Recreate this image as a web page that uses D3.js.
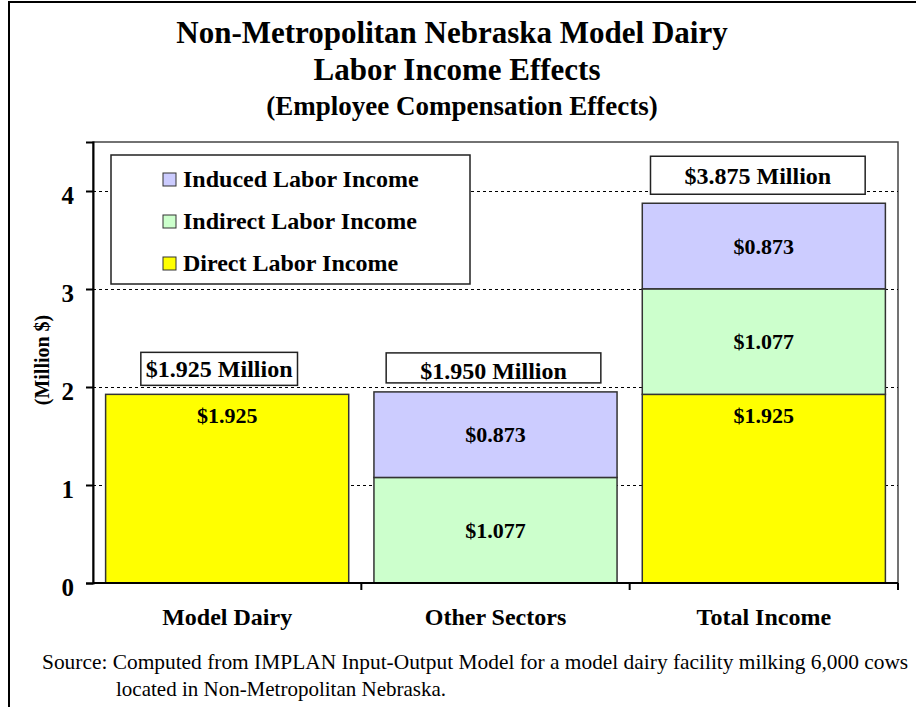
<!DOCTYPE html>
<html lang="en">
<head>
<meta charset="UTF-8" />
<title>Labor Income Effects</title>
<script src="https://cdn.jsdelivr.net/npm/d3@7"></script>
<style>
  body { margin: 0; background: #fff; }
  svg text { font-family: "Liberation Serif", "Times New Roman", serif; fill: #000; }
</style>
</head>
<body>
<div id="chart"></div>
<script>
// chart data
var categories = ["Model Dairy", "Other Sectors", "Total Income"];
var directIncome = [1.925, 0, 1.925];
var indirectIncome = [0, 1.077, 1.077];
var inducedIncome = [0, 0.873, 0.873];
var totalLabels = ["$1.925 Million", "$1.950 Million", "$3.875 Million"];
var seriesNames = ["Direct Labor Income", "Indirect Labor Income", "Induced Labor Income"];
var yTicks = [0, 1, 2, 3, 4];

var w = 916, h = 707;
// note: "top" is reserved on window, so use plot* names
var plotLeft = 93, plotRight = 898, plotTop = 142, plotBottom = 583;

var colors = { direct: "#ffff00", indirect: "#ccffcc", induced: "#ccccff" };

var svg = d3.select("#chart").append("svg")
    .attr("width", w)
    .attr("height", h);

// outer frame (runs off the right/bottom edge like the original)
svg.append("rect")
   .attr("x", 9).attr("y", 2)
   .attr("width", w + 20).attr("height", h + 20)
   .attr("fill", "none").attr("stroke", "#000").attr("stroke-width", 2);

// titles
svg.append("text").attr("x", 452).attr("y", 43).attr("text-anchor", "middle")
   .style("font-size", "31px").style("font-weight", "bold")
   .text("Non-Metropolitan Nebraska Model Dairy");
svg.append("text").attr("x", 457).attr("y", 80).attr("text-anchor", "middle")
   .style("font-size", "31px").style("font-weight", "bold")
   .text("Labor Income Effects");
svg.append("text").attr("x", 462).attr("y", 115).attr("text-anchor", "middle")
   .style("font-size", "27px").style("font-weight", "bold")
   .text("(Employee Compensation Effects)");

var data = categories.map(function(c, i) {
  return { cat: c, direct: directIncome[i], indirect: indirectIncome[i], induced: inducedIncome[i] };
});

var xScale = d3.scaleBand()
    .domain(categories)
    .range([plotLeft, plotRight])
    .paddingInner(0.094)
    .paddingOuter(0.047);

var yScale = d3.scaleLinear()
    .domain([0, 4.5])
    .range([plotBottom, plotTop]);

// plot frame
svg.append("rect")
   .attr("x", plotLeft).attr("y", plotTop)
   .attr("width", plotRight - plotLeft).attr("height", plotBottom - plotTop)
   .attr("fill", "none").attr("stroke", "#444").attr("stroke-width", 1.5);

// dotted gridlines
svg.selectAll("line.grid")
   .data(yTicks.filter(function(d) { return d > 0; }))
   .enter().append("line")
   .attr("class", "grid")
   .attr("x1", plotLeft).attr("x2", plotRight)
   .attr("y1", function(d) { return yScale(d) + 0.5; })
   .attr("y2", function(d) { return yScale(d) + 0.5; })
   .attr("stroke", "#000").attr("stroke-width", 1)
   .attr("shape-rendering", "crispEdges")
   .attr("stroke-dasharray", "3,3");

// stacked bars
var stack = d3.stack().keys(["direct", "indirect", "induced"]);
var layers = stack(data);

var layer = svg.selectAll("g.layer")
   .data(layers)
   .enter().append("g")
   .attr("class", "layer")
   .attr("fill", function(d) { return colors[d.key]; });

layer.selectAll("rect")
   .data(function(d) { return d.filter(function(s) { return s[1] - s[0] > 0; }); })
   .enter().append("rect")
   .attr("x", function(d) { return xScale(d.data.cat); })
   .attr("y", function(d) { return yScale(d[1]); })
   .attr("width", xScale.bandwidth())
   .attr("height", function(d) { return yScale(d[0]) - yScale(d[1]); })
   .attr("stroke", "#333").attr("stroke-width", 1.5);

// segment value labels (direct sits near the top, others centred)
layers.forEach(function(l) {
  l.forEach(function(s) {
    var v = s[1] - s[0];
    if (v <= 0) return;
    var cy = l.key === "direct" ? yScale(s[1]) + 21 : (yScale(s[0]) + yScale(s[1])) / 2;
    svg.append("text")
       .attr("x", xScale(s.data.cat) + xScale.bandwidth() / 2)
       .attr("y", cy)
       .attr("dy", "0.35em")
       .attr("text-anchor", "middle")
       .style("font-size", "22px").style("font-weight", "bold")
       .text("$" + v.toFixed(3));
  });
});

// total boxes above bars
var boxPad = [5, 34, 34];
var boxShift = [-8, -2, -6];
var boxH = [33, 30, 38];
var boxBase = [8, 4, 10];
data.forEach(function(d, i) {
  var total = d.direct + d.indirect + d.induced;
  var cx = xScale(d.cat) + xScale.bandwidth() / 2 + boxShift[i];
  var g = svg.append("g");
  var box = g.append("rect");
  var t = g.append("text")
     .attr("x", cx)
     .attr("text-anchor", "middle")
     .style("font-size", "24px").style("font-weight", "bold")
     .text(totalLabels[i]);
  var tw = t.node().getComputedTextLength();
  var by = yScale(total) - 9 - boxH[i];
  box.attr("x", cx - tw / 2 - boxPad[i])
     .attr("y", by)
     .attr("width", tw + 2 * boxPad[i])
     .attr("height", boxH[i])
     .attr("fill", "#fff").attr("stroke", "#222").attr("stroke-width", 1.5);
  t.attr("y", by + boxH[i] - boxBase[i]);
});

// y axis
var yAxis = d3.axisLeft(yScale).tickValues(yTicks).tickSize(7).tickFormat(d3.format("d"));
var ya = svg.append("g")
   .attr("transform", "translate(" + plotLeft + ",0)")
   .call(yAxis);
ya.select(".domain").attr("stroke", "#000").attr("stroke-width", 2);
ya.selectAll(".tick line").attr("stroke", "#000").attr("stroke-width", 2);
ya.selectAll(".tick text")
   .attr("x", -19)
   .attr("dy", "0.5em")
   .style("font-family", "'Liberation Serif', serif")
   .style("font-size", "25px").style("font-weight", "bold");

// x axis: ticks sit on category boundaries
var xa = svg.append("g")
   .attr("transform", "translate(0," + plotBottom + ")");
xa.append("line")
   .attr("x1", plotLeft).attr("x2", plotRight)
   .attr("stroke", "#000").attr("stroke-width", 2);
xa.selectAll("line.tick")
   .data(categories)
   .enter().append("line")
   .attr("class", "tick")
   .attr("x1", function(d) { return xScale(d) + xScale.bandwidth() + xScale.step() * 0.047; })
   .attr("x2", function(d) { return xScale(d) + xScale.bandwidth() + xScale.step() * 0.047; })
   .attr("y1", 0).attr("y2", 7)
   .attr("stroke", "#000").attr("stroke-width", 2);
xa.selectAll("text.cat")
   .data(categories)
   .enter().append("text")
   .attr("class", "cat")
   .attr("x", function(d) { return xScale(d) + xScale.bandwidth() / 2; })
   .attr("y", 42)
   .attr("text-anchor", "middle")
   .style("font-size", "24px").style("font-weight", "bold")
   .text(function(d) { return d; });

// y axis title
svg.append("text")
   .attr("transform", "translate(49,360) rotate(-90)")
   .attr("text-anchor", "middle")
   .style("font-size", "20px").style("font-weight", "bold")
   .text("(Million $)");

// legend (induced on top)
var legend = svg.append("g");
legend.append("rect")
   .attr("x", 111).attr("y", 155).attr("width", 359).attr("height", 129)
   .attr("fill", "#fff").attr("stroke", "#222").attr("stroke-width", 1.5);
var legendKeys = ["induced", "indirect", "direct"];
var legendItems = legend.selectAll("g.item")
   .data(legendKeys)
   .enter().append("g")
   .attr("class", "item")
   .attr("transform", function(d, i) { return "translate(163," + (179 + i * 42) + ")"; });
legendItems.append("rect")
   .attr("x", 0).attr("y", -6).attr("width", 13).attr("height", 13)
   .attr("fill", function(d) { return colors[d]; })
   .attr("stroke", "#333").attr("stroke-width", 1);
legendItems.append("text")
   .attr("x", 20).attr("dy", "0.35em")
   .style("font-size", "24px").style("font-weight", "bold")
   .text(function(d) { return seriesNames[["direct", "indirect", "induced"].indexOf(d)]; });

// source note
svg.append("text").attr("x", 42).attr("y", 669)
   .style("font-size", "21.4px")
   .text("Source: Computed from IMPLAN Input-Output Model for a model dairy facility milking 6,000 cows");
svg.append("text").attr("x", 116).attr("y", 696)
   .style("font-size", "21px")
   .text("located in Non-Metropolitan Nebraska.");
</script>
</body>
</html>
